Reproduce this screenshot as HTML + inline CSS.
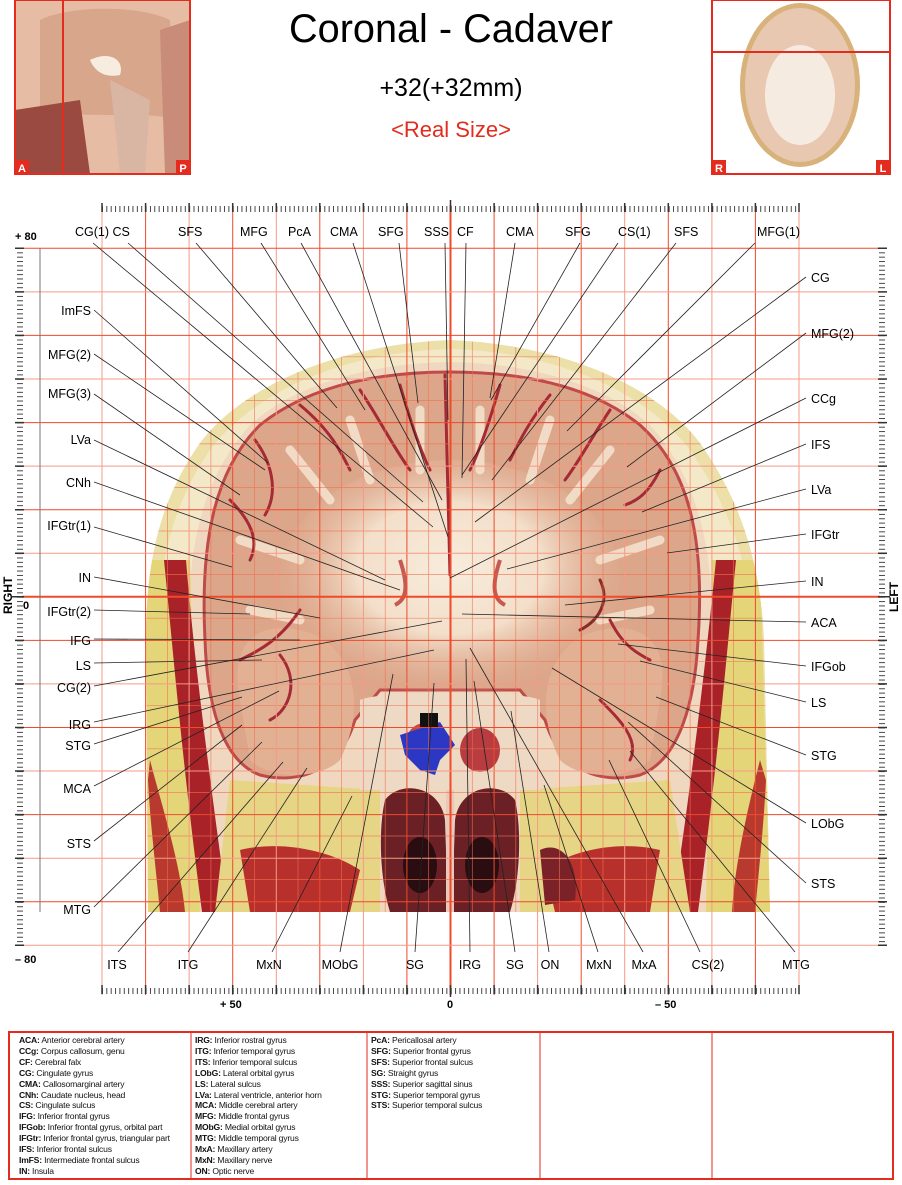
<!DOCTYPE html>
<html><head><meta charset="utf-8">
<style>
html,body{margin:0;padding:0;background:#fff;}
body{width:902px;height:1185px;position:relative;overflow:hidden;font-family:"Liberation Sans",Arial,sans-serif;}
svg{position:absolute;left:0;top:0;}
.lg{position:absolute;top:1035px;font-size:8.6px;line-height:10.9px;color:#111;letter-spacing:-0.2px;}
.lg b{font-weight:bold;}
</style></head><body>
<svg width="902" height="1185" viewBox="0 0 902 1185" xmlns="http://www.w3.org/2000/svg" font-family="Liberation Sans, Arial, sans-serif">
<defs>
<pattern id="tx" x="102" y="0" width="4.3594" height="20" patternUnits="userSpaceOnUse"><rect x="0" y="0" width="0.9" height="20" fill="#333"/></pattern>
<pattern id="ty" x="0" y="248" width="20" height="4.3594" patternUnits="userSpaceOnUse"><rect x="0" y="0" width="20" height="0.9" fill="#333"/></pattern>
<clipPath id="head"><path d="M148,912 L146,640 C146,560 160,500 200,443 C240,390 330,345 450,340 C570,345 660,390 700,443 C740,500 760,560 764,640 L770,912 Z"/></clipPath>
<radialGradient id="wm" cx="50%" cy="45%" r="55%"><stop offset="0" stop-color="#f8ecdc"/><stop offset="0.5" stop-color="#f3dfca"/><stop offset="1" stop-color="#dca68a" stop-opacity="0"/></radialGradient>
<linearGradient id="fat" x1="0" y1="0" x2="0" y2="1"><stop offset="0" stop-color="#efe6b8"/><stop offset="1" stop-color="#e4d67a"/></linearGradient>
</defs>

<!-- thumbnails -->
<path d="M15,0 L190,0 L190,174 L15,174 Z" fill="#e6bda4"/>
<path d="M40,20 C70,5 140,5 170,20 L175,120 C150,110 90,120 40,110 Z" fill="#d8a68b"/>
<path d="M15,110 L80,100 L90,174 L15,174 Z" fill="#9a4a40"/>
<path d="M90,60 C110,50 125,60 120,75 C105,78 95,72 90,60 Z" fill="#f7ece0"/>
<path d="M110,80 L150,100 L145,174 L120,174 Z" fill="#d9b5a4"/>
<path d="M160,30 L190,20 L190,174 L165,174 Z" fill="#c98c78"/>
<rect x="15" y="0" width="175" height="174" fill="none" stroke="#e32b1e" stroke-width="2"/>
<line x1="63" y1="0" x2="63" y2="174" stroke="#e32b1e" stroke-width="2"/>
<rect x="15" y="160" width="14" height="14" fill="#e32b1e"/><text x="22" y="172" font-size="11" font-weight="bold" fill="#fff" text-anchor="middle">A</text>
<rect x="176" y="160" width="14" height="14" fill="#e32b1e"/><text x="183" y="172" font-size="11" font-weight="bold" fill="#fff" text-anchor="middle">P</text>

<rect x="712" y="0" width="178" height="174" fill="#fff"/>
<ellipse cx="800" cy="85" rx="60" ry="82" fill="#d8b27a"/>
<ellipse cx="800" cy="85" rx="55" ry="77" fill="#e8c8b0"/>
<ellipse cx="800" cy="95" rx="35" ry="50" fill="#f6ebe0"/>
<rect x="712" y="0" width="178" height="174" fill="none" stroke="#e32b1e" stroke-width="2"/>
<line x1="712" y1="52" x2="890" y2="52" stroke="#e32b1e" stroke-width="2"/>
<rect x="712" y="160" width="14" height="14" fill="#e32b1e"/><text x="719" y="172" font-size="11" font-weight="bold" fill="#fff" text-anchor="middle">R</text>
<rect x="876" y="160" width="14" height="14" fill="#e32b1e"/><text x="883" y="172" font-size="11" font-weight="bold" fill="#fff" text-anchor="middle">L</text>

<!-- titles -->
<text x="451" y="42" font-size="40" text-anchor="middle" fill="#000" textLength="324" lengthAdjust="spacingAndGlyphs">Coronal - Cadaver</text>
<text x="451" y="96" font-size="25" text-anchor="middle" fill="#000">+32(+32mm)</text>
<text x="451" y="137" font-size="22" text-anchor="middle" fill="#e32b1e">&lt;Real Size&gt;</text>

<!-- head image -->
<g clip-path="url(#head)">
<rect x="140" y="330" width="640" height="590" fill="url(#fat)"/>
<path d="M148,912 L146,640 C146,560 160,500 200,443 C240,390 330,345 450,340 C570,345 660,390 700,443 C740,500 760,560 764,640 L770,912 Z" fill="#ece0a8"/>
<path d="M160,912 L158,640 C158,565 172,505 210,450 C250,397 335,352 450,349 C565,352 650,397 690,450 C728,505 752,565 752,640 L758,912 Z" fill="#f3e9c9"/>
<path d="M190,640 C185,545 205,475 250,425 C300,380 380,363 450,362 C520,363 600,380 650,425 C695,475 715,545 712,640 L712,912 L190,912 Z" fill="#f0d8c0"/>
<!-- side fat & muscle -->
<path d="M146,560 L190,560 L200,912 L146,912 Z" fill="#e4d578"/>
<path d="M712,560 L760,560 L770,912 L706,912 Z" fill="#e4d578"/>
<path d="M164,560 C172,640 182,760 202,912 L228,912 C210,780 194,660 186,560 Z" fill="#a82228"/>
<path d="M736,560 C728,640 718,760 698,912 L672,912 C692,780 706,660 716,560 Z" fill="#a82228"/>
<path d="M150,760 C160,800 180,860 185,912 L160,912 C155,860 150,820 148,780 Z" fill="#b83a2e"/>
<path d="M760,760 C750,800 735,860 732,912 L755,912 C760,860 764,820 766,780 Z" fill="#b83a2e"/>
<!-- lower face soft tissue -->
<path d="M230,780 L380,790 L380,912 L215,912 Z" fill="#e6d584"/>
<path d="M520,790 L670,780 L690,912 L520,912 Z" fill="#e6d584"/>
<path d="M240,850 C280,840 330,850 360,870 L350,912 L250,912 Z" fill="#b8302c"/>
<path d="M660,850 C620,840 570,850 545,870 L555,912 L650,912 Z" fill="#b8302c"/>
<!-- brain -->
<path d="M205,640 C200,540 215,470 260,425 C310,385 380,372 450,372 C520,372 590,385 640,425 C690,470 705,540 698,640 C695,700 680,760 640,775 C600,785 560,770 545,720 L520,690 L380,690 L355,720 C340,770 300,785 260,775 C220,760 207,700 205,640 Z" fill="#dca68a" stroke="#c04a48" stroke-width="3"/>
<ellipse cx="450" cy="580" rx="170" ry="120" fill="url(#wm)"/>
<path d="M240,700 C230,650 250,620 300,630 C350,640 370,700 340,760 C320,780 270,780 250,760 Z" fill="#e2b093"/>
<path d="M660,700 C670,650 650,620 600,630 C550,640 530,700 560,760 C580,780 630,780 650,760 Z" fill="#e2b093"/>
<!-- white matter fingers -->
<g fill="none" stroke="#f3e2cc" stroke-width="9" stroke-linecap="round" opacity="0.9">
<path d="M330,500 L290,450"/><path d="M370,480 L350,420"/><path d="M420,470 L420,410"/><path d="M480,470 L480,410"/><path d="M530,480 L550,420"/><path d="M570,500 L610,450"/><path d="M300,560 L240,540"/><path d="M600,560 L660,540"/><path d="M300,620 L250,610"/><path d="M600,620 L650,610"/>
</g>
<!-- sulci -->
<g fill="none" stroke="#a52a35" stroke-width="3" stroke-linecap="round">
<path d="M445,375 L450,575"/>
<path d="M300,405 C330,430 340,450 350,470"/>
<path d="M255,440 C270,460 280,490 265,515"/>
<path d="M360,390 C380,420 395,450 410,470"/>
<path d="M400,385 C410,420 420,450 430,470"/>
<path d="M230,500 C250,520 260,540 250,560"/>
<path d="M500,385 C490,420 480,450 470,470"/>
<path d="M550,395 C530,420 520,440 510,460"/>
<path d="M610,410 C590,440 580,460 565,480"/>
<path d="M660,470 C650,490 640,500 625,505"/>
<path d="M600,580 C610,600 600,620 580,630" stroke="#8a2a2a"/>
<path d="M240,660 C260,650 280,640 300,610"/>
<path d="M650,660 C630,650 620,640 610,620"/>
<path d="M280,655 C300,680 290,710 270,720"/>
<path d="M600,700 C620,720 640,740 630,760"/>
</g>
<path d="M400,560 C410,590 405,600 395,605 M500,560 C490,590 495,600 505,605" stroke="#c45a52" stroke-width="4" fill="none"/>
<!-- orbits and nasal -->
<path d="M360,700 C380,690 520,690 540,700 L540,790 L360,790 Z" fill="#eed9c4"/>
<ellipse cx="425" cy="745" rx="20" ry="22" fill="#c2484a"/>
<ellipse cx="480" cy="750" rx="20" ry="22" fill="#b83c40"/>
<path d="M400,735 L440,722 L455,745 L440,760 L435,775 L420,770 L405,755 Z" fill="#2c37c4"/>
<rect x="420" y="713" width="18" height="15" fill="#111"/>
<path d="M385,800 C400,780 440,785 445,820 L448,912 L390,912 C380,880 378,830 385,800 Z" fill="#6b2026"/>
<path d="M515,800 C500,780 460,785 455,820 L452,912 L510,912 C520,880 522,830 515,800 Z" fill="#6b2026"/>
<ellipse cx="420" cy="865" rx="17" ry="28" fill="#2a0d10"/>
<ellipse cx="482" cy="865" rx="17" ry="28" fill="#2a0d10"/>
<rect x="446" y="790" width="8" height="122" fill="#e8c8b8"/>
<path d="M540,850 C560,840 580,860 575,900 L545,905 Z" fill="#7a2228"/>
<!-- fine 5mm grid inside image -->
<g stroke="#f07050" stroke-width="0.7" opacity="0.8">
<line x1="123.8" y1="330" x2="123.8" y2="915"/><line x1="167.4" y1="330" x2="167.4" y2="915"/><line x1="210.9" y1="330" x2="210.9" y2="915"/><line x1="254.5" y1="330" x2="254.5" y2="915"/><line x1="298" y1="330" x2="298" y2="915"/><line x1="341.6" y1="330" x2="341.6" y2="915"/><line x1="385.2" y1="330" x2="385.2" y2="915"/><line x1="428.7" y1="330" x2="428.7" y2="915"/><line x1="472.3" y1="330" x2="472.3" y2="915"/><line x1="515.8" y1="330" x2="515.8" y2="915"/><line x1="559.4" y1="330" x2="559.4" y2="915"/><line x1="603" y1="330" x2="603" y2="915"/><line x1="646.5" y1="330" x2="646.5" y2="915"/><line x1="690.1" y1="330" x2="690.1" y2="915"/><line x1="733.6" y1="330" x2="733.6" y2="915"/><line x1="777.2" y1="330" x2="777.2" y2="915"/>
<line x1="140" y1="356.8" x2="780" y2="356.8"/><line x1="140" y1="400.4" x2="780" y2="400.4"/><line x1="140" y1="443.9" x2="780" y2="443.9"/><line x1="140" y1="487.5" x2="780" y2="487.5"/><line x1="140" y1="531" x2="780" y2="531"/><line x1="140" y1="574.6" x2="780" y2="574.6"/><line x1="140" y1="618.2" x2="780" y2="618.2"/><line x1="140" y1="661.7" x2="780" y2="661.7"/><line x1="140" y1="705.3" x2="780" y2="705.3"/><line x1="140" y1="748.8" x2="780" y2="748.8"/><line x1="140" y1="792.4" x2="780" y2="792.4"/><line x1="140" y1="836" x2="780" y2="836"/><line x1="140" y1="879.5" x2="780" y2="879.5"/>
</g>
</g>

<!-- main grid -->
<g stroke="#ee4a2c" stroke-width="1">
<line x1="102" y1="205" x2="102" y2="995" stroke="#f59a86"/><line x1="145.6" y1="205" x2="145.6" y2="995"/><line x1="189.1" y1="205" x2="189.1" y2="995" stroke="#f59a86"/><line x1="232.7" y1="205" x2="232.7" y2="995"/><line x1="276.3" y1="205" x2="276.3" y2="995" stroke="#f59a86"/><line x1="319.8" y1="205" x2="319.8" y2="995"/><line x1="363.4" y1="205" x2="363.4" y2="995" stroke="#f59a86"/><line x1="406.9" y1="205" x2="406.9" y2="995"/><line x1="450.5" y1="205" x2="450.5" y2="995" stroke-width="2"/><line x1="494.1" y1="205" x2="494.1" y2="995"/><line x1="537.6" y1="205" x2="537.6" y2="995" stroke="#f59a86"/><line x1="581.2" y1="205" x2="581.2" y2="995"/><line x1="624.7" y1="205" x2="624.7" y2="995" stroke="#f59a86"/><line x1="668.3" y1="205" x2="668.3" y2="995"/><line x1="711.9" y1="205" x2="711.9" y2="995" stroke="#f59a86"/><line x1="755.4" y1="205" x2="755.4" y2="995"/><line x1="799" y1="205" x2="799" y2="995" stroke="#f59a86"/>
<line x1="22" y1="248.3" x2="880" y2="248.3"/><line x1="22" y1="291.9" x2="880" y2="291.9" stroke="#f59a86"/><line x1="22" y1="335.4" x2="880" y2="335.4"/><line x1="22" y1="379" x2="880" y2="379" stroke="#f59a86"/><line x1="22" y1="422.6" x2="880" y2="422.6"/><line x1="22" y1="466.1" x2="880" y2="466.1" stroke="#f59a86"/><line x1="22" y1="509.7" x2="880" y2="509.7"/><line x1="22" y1="553.2" x2="880" y2="553.2" stroke="#f59a86"/><line x1="22" y1="596.8" x2="880" y2="596.8" stroke-width="2"/><line x1="22" y1="640.4" x2="880" y2="640.4"/><line x1="22" y1="683.9" x2="880" y2="683.9" stroke="#f59a86"/><line x1="22" y1="727.5" x2="880" y2="727.5"/><line x1="22" y1="771" x2="880" y2="771" stroke="#f59a86"/><line x1="22" y1="814.6" x2="880" y2="814.6"/><line x1="22" y1="858.2" x2="880" y2="858.2" stroke="#f59a86"/><line x1="22" y1="901.7" x2="880" y2="901.7"/><line x1="22" y1="945.3" x2="880" y2="945.3" stroke="#f59a86"/>
</g>
<line x1="40" y1="248" x2="40" y2="912" stroke="#777" stroke-width="1"/>

<!-- rulers -->
<rect x="102" y="206" width="697" height="6" fill="url(#tx)"/>
<rect x="102" y="988" width="697" height="6" fill="url(#tx)"/>
<rect x="17" y="248" width="6" height="698" fill="url(#ty)"/>
<rect x="879" y="248" width="6" height="698" fill="url(#ty)"/>
<g stroke="#333" stroke-width="1.5">
<path d="M102,203v9 M145.6,203v9 M189.1,203v9 M232.7,203v9 M276.3,203v9 M319.8,203v9 M363.4,203v9 M406.9,203v9 M450.5,200v12 M494.1,203v9 M537.6,203v9 M581.2,203v9 M624.7,203v9 M668.3,203v9 M711.9,203v9 M755.4,203v9 M799,203v9"/>
<path d="M102,985v9 M145.6,985v9 M189.1,985v9 M232.7,985v9 M276.3,985v9 M319.8,985v9 M363.4,985v9 M406.9,985v9 M450.5,985v12 M494.1,985v9 M537.6,985v9 M581.2,985v9 M624.7,985v9 M668.3,985v9 M711.9,985v9 M755.4,985v9 M799,985v9"/>
<path d="M15,248.3h9 M15,291.9h9 M15,335.4h9 M15,379h9 M15,422.6h9 M15,466.1h9 M15,509.7h9 M15,553.2h9 M12,596.8h12 M15,640.4h9 M15,683.9h9 M15,727.5h9 M15,771h9 M15,814.6h9 M15,858.2h9 M15,901.7h9 M15,945.3h9"/>
<path d="M878,248.3h9 M878,291.9h9 M878,335.4h9 M878,379h9 M878,422.6h9 M878,466.1h9 M878,509.7h9 M878,553.2h9 M878,596.8h12 M878,640.4h9 M878,683.9h9 M878,727.5h9 M878,771h9 M878,814.6h9 M878,858.2h9 M878,901.7h9 M878,945.3h9"/>
</g>
<g font-size="11" font-weight="bold" fill="#000">
<text x="15" y="240">+ 80</text>
<text x="15" y="963">– 80</text>
<text x="23" y="609">0</text>
<text x="220" y="1008">+ 50</text>
<text x="447" y="1008">0</text>
<text x="655" y="1008">– 50</text>
<text transform="translate(12,614) rotate(-90)" font-size="12">RIGHT</text>
<text transform="translate(898,612) rotate(-90)" font-size="12">LEFT</text>
</g>

<!-- leader lines -->
<g stroke="#222" stroke-width="0.8" fill="none">
<line x1="93" y1="243" x2="433" y2="527"/>
<line x1="128" y1="243" x2="423" y2="502"/>
<line x1="196" y1="243" x2="337" y2="408"/>
<line x1="261" y1="243" x2="365" y2="410"/>
<line x1="301" y1="243" x2="442" y2="500"/>
<line x1="353" y1="243" x2="448" y2="537"/>
<line x1="399" y1="243" x2="418" y2="403"/>
<line x1="445" y1="243" x2="448" y2="420"/>
<line x1="466" y1="243" x2="462" y2="478"/>
<line x1="515" y1="243" x2="490" y2="398"/>
<line x1="580" y1="243" x2="491" y2="400"/>
<line x1="618" y1="243" x2="462" y2="475"/>
<line x1="676" y1="243" x2="492" y2="480"/>
<line x1="755" y1="243" x2="567" y2="431"/>
<line x1="806" y1="277" x2="475" y2="522"/>
<line x1="806" y1="333" x2="627" y2="467"/>
<line x1="806" y1="398" x2="450" y2="578"/>
<line x1="806" y1="444" x2="642" y2="512"/>
<line x1="806" y1="489" x2="507" y2="569"/>
<line x1="806" y1="534" x2="667" y2="553"/>
<line x1="806" y1="581" x2="565" y2="605"/>
<line x1="806" y1="622" x2="462" y2="614"/>
<line x1="806" y1="666" x2="618" y2="644"/>
<line x1="806" y1="702" x2="640" y2="661"/>
<line x1="806" y1="755" x2="656" y2="697"/>
<line x1="806" y1="823" x2="552" y2="668"/>
<line x1="806" y1="883" x2="628" y2="722"/>
<line x1="94" y1="310" x2="268" y2="463"/>
<line x1="94" y1="354" x2="265" y2="470"/>
<line x1="94" y1="394" x2="240" y2="495"/>
<line x1="94" y1="440" x2="385" y2="580"/>
<line x1="94" y1="482" x2="400" y2="590"/>
<line x1="94" y1="527" x2="232" y2="567"/>
<line x1="94" y1="577" x2="320" y2="618"/>
<line x1="94" y1="610" x2="250" y2="614"/>
<line x1="94" y1="639" x2="300" y2="640"/>
<line x1="94" y1="663" x2="262" y2="660"/>
<line x1="94" y1="686" x2="442" y2="621"/>
<line x1="94" y1="722" x2="434" y2="650"/>
<line x1="94" y1="744" x2="242" y2="697"/>
<line x1="94" y1="786" x2="279" y2="691"/>
<line x1="94" y1="841" x2="242" y2="725"/>
<line x1="94" y1="907" x2="262" y2="742"/>
<line x1="118" y1="952" x2="283" y2="762"/>
<line x1="188" y1="952" x2="307" y2="768"/>
<line x1="272" y1="952" x2="352" y2="796"/>
<line x1="340" y1="952" x2="393" y2="674"/>
<line x1="415" y1="952" x2="434" y2="683"/>
<line x1="470" y1="952" x2="466" y2="659"/>
<line x1="515" y1="952" x2="474" y2="681"/>
<line x1="549" y1="952" x2="511" y2="711"/>
<line x1="598" y1="952" x2="544" y2="785"/>
<line x1="643" y1="952" x2="470" y2="648"/>
<line x1="700" y1="952" x2="609" y2="760"/>
<line x1="795" y1="952" x2="630" y2="751"/>
</g>

<!-- labels -->
<g font-size="12.5" fill="#000">
<text x="75" y="236">CG(1) CS</text>
<text x="178" y="236">SFS</text>
<text x="240" y="236">MFG</text>
<text x="288" y="236">PcA</text>
<text x="330" y="236">CMA</text>
<text x="378" y="236">SFG</text>
<text x="424" y="236">SSS</text>
<text x="457" y="236">CF</text>
<text x="506" y="236">CMA</text>
<text x="565" y="236">SFG</text>
<text x="618" y="236">CS(1)</text>
<text x="674" y="236">SFS</text>
<text x="757" y="236">MFG(1)</text>
<text x="811" y="282">CG</text>
<text x="811" y="338">MFG(2)</text>
<text x="811" y="403">CCg</text>
<text x="811" y="449">IFS</text>
<text x="811" y="494">LVa</text>
<text x="811" y="539">IFGtr</text>
<text x="811" y="586">IN</text>
<text x="811" y="627">ACA</text>
<text x="811" y="671">IFGob</text>
<text x="811" y="707">LS</text>
<text x="811" y="760">STG</text>
<text x="811" y="828">LObG</text>
<text x="811" y="888">STS</text>
<g text-anchor="end">
<text x="91" y="315">ImFS</text>
<text x="91" y="359">MFG(2)</text>
<text x="91" y="398">MFG(3)</text>
<text x="91" y="444">LVa</text>
<text x="91" y="487">CNh</text>
<text x="91" y="530">IFGtr(1)</text>
<text x="91" y="582">IN</text>
<text x="91" y="616">IFGtr(2)</text>
<text x="91" y="645">IFG</text>
<text x="91" y="670">LS</text>
<text x="91" y="692">CG(2)</text>
<text x="91" y="729">IRG</text>
<text x="91" y="750">STG</text>
<text x="91" y="793">MCA</text>
<text x="91" y="848">STS</text>
<text x="91" y="914">MTG</text>
</g>
<g text-anchor="middle">
<text x="117" y="969">ITS</text>
<text x="188" y="969">ITG</text>
<text x="269" y="969">MxN</text>
<text x="340" y="969">MObG</text>
<text x="415" y="969">SG</text>
<text x="470" y="969">IRG</text>
<text x="515" y="969">SG</text>
<text x="550" y="969">ON</text>
<text x="599" y="969">MxN</text>
<text x="644" y="969">MxA</text>
<text x="708" y="969">CS(2)</text>
<text x="796" y="969">MTG</text>
</g>
</g>

<!-- legend box -->
<rect x="9" y="1032" width="884" height="147" fill="none" stroke="#e32b1e" stroke-width="2"/>
<g stroke="#e32b1e" stroke-width="1"><line x1="191" y1="1032" x2="191" y2="1179"/><line x1="367" y1="1032" x2="367" y2="1179"/><line x1="540" y1="1032" x2="540" y2="1179"/><line x1="712" y1="1032" x2="712" y2="1179"/></g>
</svg>
<div class="lg" style="left:19px"><b>ACA:</b> Anterior cerebral artery<br><b>CCg:</b> Corpus callosum, genu<br><b>CF:</b> Cerebral falx<br><b>CG:</b> Cingulate gyrus<br><b>CMA:</b> Callosomarginal artery<br><b>CNh:</b> Caudate nucleus, head<br><b>CS:</b> Cingulate sulcus<br><b>IFG:</b> Inferior frontal gyrus<br><b>IFGob:</b> Inferior frontal gyrus, orbital part<br><b>IFGtr:</b> Inferior frontal gyrus, triangular part<br><b>IFS:</b> Inferior frontal sulcus<br><b>ImFS:</b> Intermediate frontal sulcus<br><b>IN:</b> Insula</div>
<div class="lg" style="left:195px"><b>IRG:</b> Inferior rostral gyrus<br><b>ITG:</b> Inferior temporal gyrus<br><b>ITS:</b> Inferior temporal sulcus<br><b>LObG:</b> Lateral orbital gyrus<br><b>LS:</b> Lateral sulcus<br><b>LVa:</b> Lateral ventricle, anterior horn<br><b>MCA:</b> Middle cerebral artery<br><b>MFG:</b> Middle frontal gyrus<br><b>MObG:</b> Medial orbital gyrus<br><b>MTG:</b> Middle temporal gyrus<br><b>MxA:</b> Maxillary artery<br><b>MxN:</b> Maxillary nerve<br><b>ON:</b> Optic nerve</div>
<div class="lg" style="left:371px"><b>PcA:</b> Pericallosal artery<br><b>SFG:</b> Superior frontal gyrus<br><b>SFS:</b> Superior frontal sulcus<br><b>SG:</b> Straight gyrus<br><b>SSS:</b> Superior sagittal sinus<br><b>STG:</b> Superior temporal gyrus<br><b>STS:</b> Superior temporal sulcus</div>
</body></html>
